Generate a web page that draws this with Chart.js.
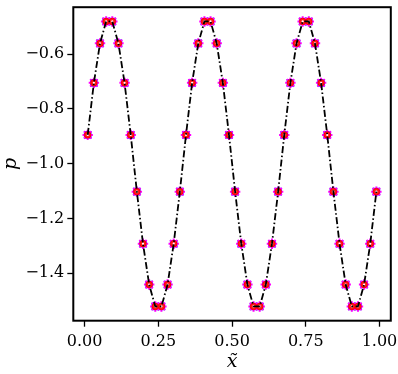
<!DOCTYPE html>
<html>
<head>
<meta charset="utf-8">
<script src="https://cdn.jsdelivr.net/npm/chart.js@4.4.0/dist/chart.umd.min.js"></script>
<style>
  html, body { margin: 0; padding: 0; background: #fff; }
  #wrap { width: 398px; height: 374px; }
</style>
</head>
<body>
<div id="wrap"><canvas id="chart" width="398" height="374"></canvas></div>
<script>
// sample positions (cell centres)
const xValues = [
  0.0104, 0.0313, 0.0521, 0.0729, 0.0938, 0.1146, 0.1354, 0.1563,
  0.1771, 0.1979, 0.2188, 0.2396, 0.2604, 0.2813, 0.3021, 0.3229,
  0.3438, 0.3646, 0.3854, 0.4063, 0.4271, 0.4479, 0.4688, 0.4896,
  0.5104, 0.5313, 0.5521, 0.5729, 0.5938, 0.6146, 0.6354, 0.6563,
  0.6771, 0.6979, 0.7188, 0.7396, 0.7604, 0.7813, 0.8021, 0.8229,
  0.8438, 0.8646, 0.8854, 0.9063, 0.9271, 0.9479, 0.9688, 0.9896
];
// p
const pValues = [
  -0.895, -0.705, -0.561, -0.481, -0.481, -0.561, -0.705, -0.895,
  -1.102, -1.292, -1.441, -1.521, -1.521, -1.441, -1.292, -1.102,
  -0.895, -0.705, -0.561, -0.481, -0.481, -0.561, -0.705, -0.895,
  -1.102, -1.292, -1.441, -1.521, -1.521, -1.441, -1.292, -1.102,
  -0.895, -0.705, -0.561, -0.481, -0.481, -0.561, -0.705, -0.895,
  -1.102, -1.292, -1.441, -1.521, -1.521, -1.441, -1.292, -1.102
];
const xTicks = [0, 0.25, 0.5, 0.75, 1.0];
const yTicks = [-1.4, -1.2, -1.0, -0.8, -0.6];

const pts = xValues.map((x, i) => ({ x: x, y: pValues[i] }));
const FONT = "'DejaVu Serif', 'Liberation Serif', serif";

function markerSet(style, radius, fill, stroke, bw) {
  return {
    data: pts, showLine: false, pointStyle: style, pointRadius: radius,
    pointBackgroundColor: fill, pointBorderColor: stroke, pointBorderWidth: bw
  };
}

// black frame around the plot area
const frame = {
  id: 'frame',
  afterDraw(chart) {
    const a = chart.chartArea, ctx = chart.ctx;
    ctx.save();
    ctx.strokeStyle = '#000';
    ctx.lineWidth = 2;
    ctx.strokeRect(a.left, a.top, a.right - a.left, a.bottom - a.top);
    ctx.restore();
  }
};

new Chart(document.getElementById('chart').getContext('2d'), {
  type: 'scatter',
  data: {
    datasets: [
      { data: pts, showLine: true, borderColor: '#000', borderWidth: 1.8,
        borderDash: [7, 2.5, 1.5, 2.5], pointRadius: 0, fill: false },
      markerSet('circle', 1.1, '#fff', '#fff', 0),
      markerSet('circle', 3.2, '#ff1a1a', '#ff0000', 1),
      markerSet('star', 5.2, '#ff00ff', '#ff00ff', 2),
      markerSet('rect', 5.4, '#3030ff', '#3030ff', 0)
    ]
  },
  options: {
    responsive: false,
    animation: false,
    layout: { padding: { left: 0, right: 7, top: 5, bottom: 0 } },
    plugins: { legend: { display: false }, tooltip: { enabled: false } },
    scales: {
      x: {
        type: 'linear', min: -0.0385, max: 1.0385,
        afterBuildTicks: s => { s.ticks = xTicks.map(v => ({ value: v })); },
        afterFit: s => { s.height = 53.3; s.paddingLeft = 0; s.paddingRight = 0; },
        grid: { drawOnChartArea: false, tickLength: 6, tickColor: '#000', tickWidth: 1.3 },
        border: { display: false },
        ticks: { color: '#000', padding: 6, font: { family: FONT, size: 16 },
                 maxRotation: 0, callback: v => v.toFixed(2) },
        title: { display: true, text: 'x\u0303', color: '#000', padding: { top: 0, bottom: 1 },
                 font: { family: FONT, size: 19, style: 'italic' } }
      },
      y: {
        type: 'linear', min: -1.573, max: -0.429,
        afterBuildTicks: s => { s.ticks = yTicks.map(v => ({ value: v })); },
        afterFit: s => { s.width = 73.3; s.paddingTop = 0; s.paddingBottom = 0; },
        grid: { drawOnChartArea: false, tickLength: 6, tickColor: '#000', tickWidth: 1.3 },
        border: { display: false },
        ticks: { color: '#000', padding: 3, font: { family: FONT, size: 16 },
                 callback: v => v.toFixed(1).replace('-', '\u2212') },
        title: { display: true, text: 'p', color: '#000', padding: { top: 0, bottom: 0 },
                 font: { family: FONT, size: 19, style: 'italic' } }
      }
    }
  },
  plugins: [frame]
});
</script>
</body>
</html>
